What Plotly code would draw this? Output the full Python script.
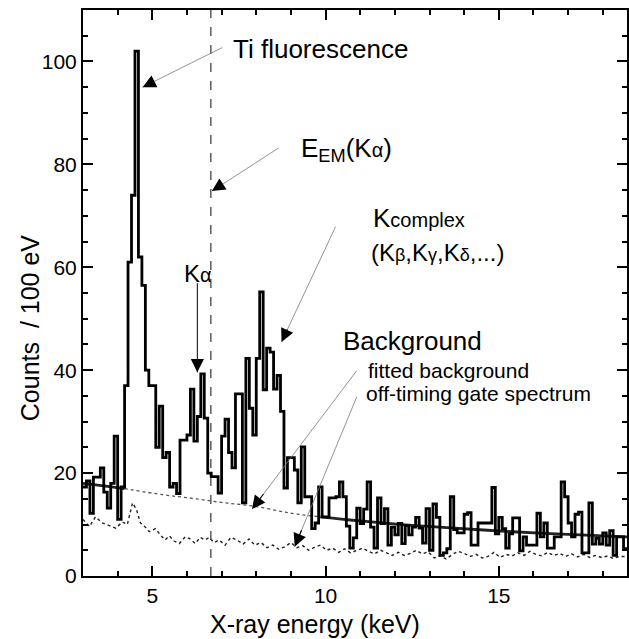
import plotly.graph_objects as go

# ---------------- data ----------------
BIN_START = 3.0
BIN_WIDTH = 0.1
counts = [17.3, 18.5, 12.2, 19.2, 19.2, 21, 16.3, 13.2, 18, 27.2,
          11, 17.3, 37, 61, 74, 102, 62, 56.5, 40, 37,
          37, 25, 33, 23, 24, 17.3, 18, 16, 26.4, 26.4,
          27.4, 36.3, 26.2, 31, 39.3, 30.7, 20, 19.3, 19.3, 16.1,
          27.2, 30.5, 24, 21, 35.4, 35.4, 14.2, 42.3, 32.6, 27.4,
          42.3, 55.2, 36.2, 44.3, 43.5, 36.3, 39, 32, 17.1, 23,
          23, 20.6, 14.2, 25.1, 15.4, 15.4, 9.2, 10.3, 17.3, 11.5,
          11.5, 15.2, 15.2, 15.4, 18.3, 15.4, 9.7, 5.4, 7.4, 13.2,
          10.2, 13, 18.3, 9.5, 5.4, 15.2, 10.2, 13.1, 6, 9.5,
          8, 10.2, 6.3, 9.8, 8, 9.5, 11.4, 9.3, 6.4, 13.1,
          5, 14, 11.4, 4.0, 4.5, 5.3, 15.4, 9, 8.4, 8.4,
          12, 12.3, 6, 6, 10.3, 10.3, 10.3, 10.3, 17.2, 8.2,
          11.4, 9.2, 5.4, 8.2, 11.3, 11.3, 4.9, 7.6, 6, 6,
          6, 12.2, 7.6, 10.3, 5.4, 5.4, 7.6, 7.6, 18.3, 15.4,
          10.3, 7.6, 12, 12.4, 4.5, 4.5, 14.2, 6.2, 7.3, 6.2,
          8.4, 6, 8.8, 4, 7.6, 7.6, 5.3]

off_energy = [3.0, 3.19, 3.36, 3.56, 3.76, 3.94, 4.14, 4.28, 4.43, 4.54,
              4.66, 4.80, 4.91, 5.09, 5.23, 5.37, 5.49, 5.63, 5.78, 5.95,
              6.07, 6.24, 6.38, 6.52, 6.64, 6.78, 6.93, 7.10, 7.27, 7.44,
              7.62, 7.79, 7.96, 8.14, 8.31, 8.48, 8.65, 8.83, 9.00, 9.17,
              9.34, 9.51, 9.69, 9.86, 10.03, 10.21, 10.38, 10.55, 10.72, 10.90,
              11.07, 11.24, 11.41, 11.59, 11.76, 11.93, 12.10, 12.27, 12.45, 12.62,
              12.79, 12.96, 13.14, 13.31, 13.48, 13.66, 13.83, 14.0, 14.17, 14.35,
              14.52, 14.69, 14.86, 15.04, 15.21, 15.38, 15.55, 15.73, 15.90, 16.07,
              16.24, 16.41, 16.59, 16.76, 16.93, 17.10, 17.28, 17.45, 17.62, 17.79,
              17.97, 18.14, 18.31, 18.48, 18.66]
off_counts = [11, 9.6, 11.5, 10.3, 9.8, 9.3, 10.5, 10.0, 14.2, 13.0,
              10.3, 9.5, 8.6, 9.2, 8.0, 7.0, 7.8, 6.8, 6.3, 7.6,
              7.3, 6.3, 7.5, 7.0, 7.5, 6.5, 7.0, 6.0, 7.5, 7.0,
              6.2, 7.2, 6.0, 6.5, 5.5, 6.0, 5.2, 5.7, 6.5, 5.5,
              5.9, 5.0, 5.6, 6.0, 5.0, 5.4, 4.6, 5.3, 4.5, 4.9,
              5.4, 4.8, 4.3, 5.0, 4.5, 4.0, 4.6, 4.0, 4.4, 5.0,
              4.3, 4.7, 3.5, 4.0, 3.3, 4.2, 4.8, 4.4, 3.8, 4.2,
              3.5, 3.8, 4.6, 3.6, 4.2, 3.9, 4.5, 4.0, 4.8, 4.2,
              3.9, 4.6, 4.0, 4.4, 3.8, 4.3, 3.7, 4.2, 3.6, 4.0,
              3.6, 3.9, 3.4, 3.8, 3.8]

bg_low_energy = [3.0, 3.6, 4.2]
bg_low_counts = [18.0, 17.5, 17.0]
bg_mid_energy = [4.2, 5.3, 6.15, 7.0, 8.0, 9.0, 9.85]
bg_mid_counts = [17.0, 15.8, 15.1, 14.3, 13.5, 12.2, 11.5]
bg_high_energy = [9.85, 11.0, 12.2, 13.5, 15.4, 17.0, 18.7]
bg_high_counts = [11.5, 10.7, 10.0, 9.4, 8.6, 8.1, 7.6]

E_EM_KALPHA = 6.69

x_ticks = [5, 10, 15]
y_ticks = [0, 20, 40, 60, 80, 100]

# -------------- figure ---------------
edges = [round(BIN_START + BIN_WIDTH * i, 3) for i in range(len(counts) + 1)]
hist_y = counts + [counts[-1]]

FONT = "Liberation Sans, Arial, Helvetica, sans-serif"

fig = go.Figure()
fig.add_trace(go.Scatter(x=off_energy, y=off_counts, mode="lines",
                         line=dict(color="#222", width=1.4, dash="dot"),
                         hoverinfo="skip"))
fig.add_trace(go.Scatter(x=bg_mid_energy, y=bg_mid_counts, mode="lines",
                         line=dict(color="#555", width=1.3, dash="dot", shape="spline"),
                         hoverinfo="skip"))
fig.add_trace(go.Scatter(x=bg_low_energy, y=bg_low_counts, mode="lines",
                         line=dict(color="#222", width=2.8, shape="spline"),
                         hoverinfo="skip"))
fig.add_trace(go.Scatter(x=bg_high_energy, y=bg_high_counts, mode="lines",
                         line=dict(color="#222", width=2.8, shape="spline"),
                         hoverinfo="skip"))
fig.add_trace(go.Scatter(x=edges, y=hist_y, mode="lines",
                         line=dict(color="black", width=2.8, shape="hv"),
                         hoverinfo="skip"))

fig.add_shape(type="line", x0=E_EM_KALPHA, x1=E_EM_KALPHA, y0=0, y1=1,
              xref="x", yref="paper",
              line=dict(color="#333", width=1.2, dash="dash"))


def arrow(x, y, ax, ay, color="#777", width=0.8):
    # thin shaft
    fig.add_shape(type="line", x0=ax, y0=ay, x1=x, y1=y, xref="x", yref="y",
                  line=dict(color=color, width=width))
    # black filled head
    fx = x + (ax - x) * 0.12
    fy = y + (ay - y) * 0.12
    fig.add_annotation(x=x, y=y, ax=fx, ay=fy, xref="x", yref="y",
                       axref="x", ayref="y", text="", showarrow=True,
                       arrowhead=2, arrowsize=2.4, arrowwidth=1.1,
                       arrowcolor="black")


arrow(4.72, 95.0, 7.02, 102.7)
arrow(6.72, 74.8, 8.65, 83.2)
arrow(6.30, 39.6, 6.30, 56.9, color="black", width=1.0)
arrow(8.73, 45.5, 10.29, 67.9)
arrow(7.88, 13.0, 10.90, 39.9)
arrow(9.11, 5.7, 10.90, 34.8)


def label(x, y, text, size):
    fig.add_annotation(x=x, y=y, xref="x", yref="y", text=text,
                       showarrow=False, xanchor="left", yanchor="middle",
                       font=dict(family=FONT, size=size, color="black"))


label(7.27, 102.4, "Ti fluorescence", 26)
label(9.22, 82.8, "E<sub>EM</sub>(K<span style='font-size:20px'>α</span>)", 26)
label(5.86, 58.7, "K<span style='font-size:20px'>α</span>", 24)
label(11.3, 69.6, "K<span style='font-size:20px'>complex</span>", 26)
label(11.25, 62.8, "(K<span style='font-size:18px'>β</span>,K<span style='font-size:18px'>γ</span>,"
                   "K<span style='font-size:18px'>δ</span>,...)", 24)
label(10.44, 45.7, "Background", 26)
label(11.16, 40.0, "fitted background", 21)
label(11.10, 35.4, "off-timing gate spectrum", 21)

fig.add_annotation(x=(316 - 83) / 546, y=-(624 - 576) / 566, xref="paper", yref="paper",
                   text="X-ray energy (keV)", showarrow=False,
                   xanchor="center", yanchor="middle",
                   font=dict(family=FONT, size=25, color="black"))
fig.add_annotation(x=-(83 - 30) / 546, y=(576 - 328) / 566, xref="paper", yref="paper",
                   text="Counts  / 100 eV", showarrow=False, textangle=-90,
                   xanchor="center", yanchor="middle",
                   font=dict(family=FONT, size=25, color="black"))

axis_common = dict(showline=True, linewidth=2, linecolor="black", mirror="ticks",
                   ticks="inside", ticklen=10, tickwidth=2, tickcolor="black",
                   showgrid=False, zeroline=False,
                   tickfont=dict(family=FONT, size=21, color="black"))

fig.update_xaxes(range=[3, 18.7], tickvals=x_ticks, **axis_common,
                 minor=dict(dtick=1, tick0=0, ticks="inside", ticklen=5, tickwidth=1.5,
                            tickcolor="black", showgrid=False))
fig.update_yaxes(range=[0, 110], tickvals=y_ticks, **axis_common,
                 minor=dict(dtick=5, tick0=0, ticks="inside", ticklen=5, tickwidth=1.5,
                            tickcolor="black", showgrid=False))

fig.update_layout(width=629, height=639, showlegend=False,
                  margin=dict(l=83, r=0, t=10, b=63),
                  plot_bgcolor="white", paper_bgcolor="white",
                  font=dict(family=FONT))

fig.write_html("out.html")
